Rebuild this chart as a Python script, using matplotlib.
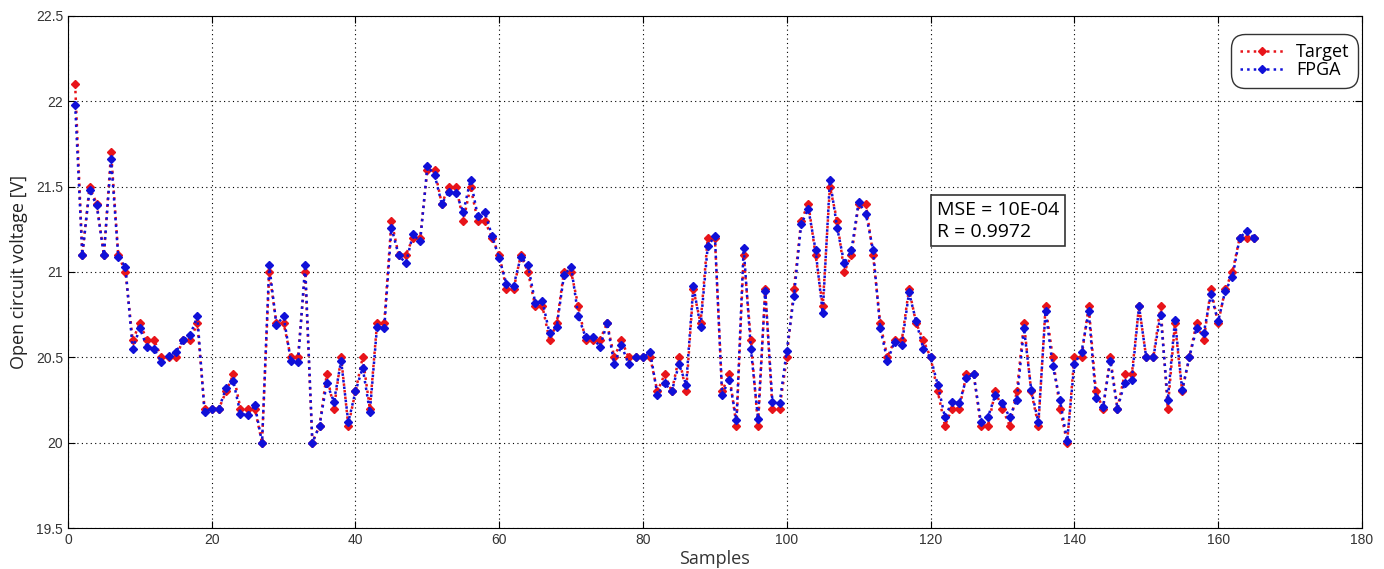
import numpy as np
import matplotlib
matplotlib.use("Agg")
import matplotlib.pyplot as plt

# sample values
target = [22.1, 21.1, 21.5, 21.4, 21.1, 21.7, 21.1, 21.0, 20.6, 20.7,
          20.6, 20.6, 20.5, 20.5, 20.5, 20.6, 20.6, 20.7, 20.2, 20.2,
          20.2, 20.3, 20.4, 20.2, 20.2, 20.2, 20.0, 21.0, 20.7, 20.7,
          20.5, 20.5, 21.0, 20.0, 20.1, 20.4, 20.2, 20.5, 20.1, 20.3,
          20.5, 20.2, 20.7, 20.7, 21.3, 21.1, 21.1, 21.2, 21.2, 21.6,
          21.6, 21.4, 21.5, 21.5, 21.3, 21.5, 21.3, 21.3, 21.2, 21.1,
          20.9, 20.9, 21.1, 21.0, 20.8, 20.8, 20.6, 20.7, 21.0, 21.0,
          20.8, 20.6, 20.6, 20.6, 20.7, 20.5, 20.6, 20.5, 20.5, 20.5,
          20.5, 20.3, 20.4, 20.3, 20.5, 20.3, 20.9, 20.7, 21.2, 21.2,
          20.3, 20.4, 20.1, 21.1, 20.6, 20.1, 20.9, 20.2, 20.2, 20.5,
          20.9, 21.3, 21.4, 21.1, 20.8, 21.5, 21.3, 21.0, 21.1, 21.4,
          21.4, 21.1, 20.7, 20.5, 20.6, 20.6, 20.9, 20.7, 20.6, 20.5,
          20.3, 20.1, 20.2, 20.2, 20.4, 20.4, 20.1, 20.1, 20.3, 20.2,
          20.1, 20.3, 20.7, 20.3, 20.1, 20.8, 20.5, 20.2, 20.0, 20.5,
          20.5, 20.8, 20.3, 20.2, 20.5, 20.2, 20.4, 20.4, 20.8, 20.5,
          20.5, 20.8, 20.2, 20.7, 20.3, 20.5, 20.7, 20.6, 20.9, 20.7,
          20.9, 21.0, 21.2, 21.2, 21.2]

fpga = [21.98, 21.1, 21.48, 21.39, 21.1, 21.66, 21.09, 21.03, 20.55, 20.67,
        20.56, 20.55, 20.47, 20.51, 20.53, 20.6, 20.63, 20.74, 20.18, 20.2,
        20.2, 20.32, 20.36, 20.17, 20.16, 20.22, 20.0, 21.04, 20.69, 20.74,
        20.48, 20.47, 21.04, 20.0, 20.1, 20.35, 20.24, 20.48, 20.12, 20.3,
        20.44, 20.18, 20.68, 20.67, 21.26, 21.1, 21.05, 21.22, 21.18, 21.62,
        21.57, 21.4, 21.47, 21.46, 21.35, 21.54, 21.33, 21.35, 21.21, 21.08,
        20.93, 20.92, 21.09, 21.04, 20.82, 20.83, 20.64, 20.68, 20.98, 21.03,
        20.74, 20.62, 20.62, 20.56, 20.7, 20.46, 20.57, 20.46, 20.5, 20.5,
        20.53, 20.28, 20.35, 20.3, 20.46, 20.34, 20.92, 20.68, 21.15, 21.21,
        20.28, 20.37, 20.13, 21.14, 20.55, 20.14, 20.89, 20.24, 20.23, 20.54,
        20.86, 21.28, 21.37, 21.13, 20.76, 21.54, 21.26, 21.05, 21.13, 21.41,
        21.34, 21.13, 20.67, 20.48, 20.59, 20.57, 20.88, 20.71, 20.55, 20.5,
        20.34, 20.15, 20.24, 20.23, 20.38, 20.4, 20.12, 20.15, 20.28, 20.23,
        20.15, 20.25, 20.67, 20.31, 20.12, 20.77, 20.45, 20.25, 20.01, 20.46,
        20.53, 20.77, 20.26, 20.21, 20.48, 20.2, 20.35, 20.37, 20.8, 20.5,
        20.5, 20.75, 20.25, 20.72, 20.31, 20.5, 20.67, 20.64, 20.87, 20.71,
        20.89, 20.97, 21.2, 21.24, 21.2]

samples = np.arange(1, len(target) + 1)

fig = plt.figure(figsize=(13.84, 5.69), dpi=100)
ax = fig.add_axes([0.0491, 0.072, 0.9349, 0.900])

ax.plot(samples, target, color="#e8141a", linestyle=":", linewidth=1.8,
        marker="D", markersize=3.8, label="Target")
ax.plot(samples, fpga, color="#1010d8", linestyle=":", linewidth=1.8,
        marker="D", markersize=3.8, label="FPGA")

ax.set_xlim(0, 180)
ax.set_ylim(19.5, 22.5)
ax.set_xticks(np.arange(0, 181, 20))
ax.set_yticks(np.arange(19.5, 22.51, 0.5))
ax.set_yticklabels(["19.5", "20", "20.5", "21", "21.5", "22", "22.5"])
ax.tick_params(direction="in", labelsize=10, labelcolor="#333333",
               top=True, right=True, length=5)
for lab in ax.get_xticklabels() + ax.get_yticklabels():
    lab.set_family("Liberation Sans")
ax.grid(True, linestyle=(0, (1, 3)), color="black", linewidth=0.8)

ax.set_xlabel("Samples", fontsize=13, family="Open Sans", color="#333333",
              labelpad=2)
ax.set_ylabel("Open circuit voltage [V]", fontsize=13, family="Open Sans",
              color="#222222", labelpad=6)

leg = ax.legend(loc="upper right", bbox_to_anchor=(0.9946, 0.958),
                borderaxespad=0, fancybox=True, framealpha=1,
                edgecolor="#333333", handlelength=2.4, labelspacing=0.0,
                borderpad=0.3, handletextpad=0.7,
                prop={"family": "Open Sans", "size": 13})
leg.get_frame().set_linewidth(1.0)
leg.get_frame().set_boxstyle("round", pad=0.2, rounding_size=0.8)

ax.text(120.9, 21.30, "MSE = 10E-04\nR = 0.9972", fontsize=14,
        family="Open Sans", va="center", ha="left", linespacing=1.25,
        bbox=dict(boxstyle="square,pad=0.3", facecolor="white",
                  edgecolor="#333333", linewidth=1.2))

fig.savefig("out.png", dpi=100)
